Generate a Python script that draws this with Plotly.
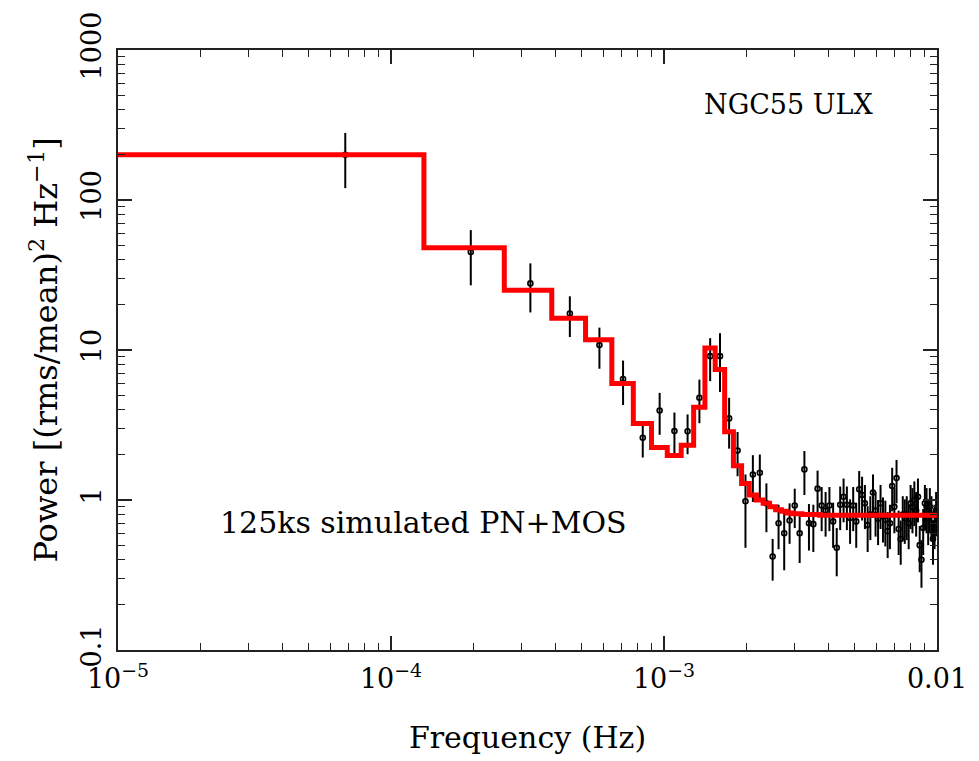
import plotly.graph_objects as go

# ---------------- data ----------------
# bin centre frequencies (Hz), linearly spaced bins of width 1.28e-4 Hz
freq = [
    6.8e-5, 1.96e-4, 3.24e-4, 4.52e-4, 5.80e-4, 7.08e-4, 8.36e-4, 9.64e-4,
    1.092e-3, 1.220e-3, 1.348e-3, 1.476e-3, 1.604e-3, 1.732e-3, 1.860e-3, 1.988e-3,
    2.116e-3, 2.244e-3, 2.372e-3, 2.500e-3, 2.628e-3, 2.756e-3, 2.884e-3, 3.012e-3,
    3.140e-3, 3.268e-3, 3.396e-3, 3.524e-3, 3.652e-3, 3.780e-3, 3.908e-3, 4.036e-3,
    4.164e-3, 4.292e-3, 4.420e-3, 4.548e-3, 4.676e-3, 4.804e-3, 4.932e-3, 5.060e-3,
    5.188e-3, 5.316e-3, 5.444e-3, 5.572e-3, 5.700e-3, 5.828e-3, 5.956e-3, 6.084e-3,
    6.212e-3, 6.340e-3, 6.468e-3, 6.596e-3, 6.724e-3, 6.852e-3, 6.980e-3, 7.108e-3,
    7.236e-3, 7.364e-3, 7.492e-3, 7.620e-3, 7.748e-3, 7.876e-3, 8.004e-3, 8.132e-3,
    8.260e-3, 8.388e-3, 8.516e-3, 8.644e-3, 8.772e-3, 8.900e-3, 9.028e-3, 9.156e-3,
    9.284e-3, 9.412e-3, 9.540e-3, 9.668e-3, 9.796e-3, 9.924e-3,
]
bin_half_width = 6.4e-5

# simulated power (rms/mean)^2 Hz^-1
power = [
    200, 45, 27.8, 17.5, 10.8, 6.4, 2.6, 3.95,
    2.88, 2.87, 4.8, 9.1, 9.1, 3.5, 2.14, 0.98,
    1.48, 1.52, 0.95, 0.42, 0.70, 0.60, 0.73, 0.92,
    0.60, 1.60, 0.70, 0.69, 1.19, 0.92, 0.85, 0.92,
    0.72, 0.48, 0.93, 1.05, 0.93, 0.76, 0.92, 0.72,
    1.18, 1.08, 0.95, 0.68, 0.80, 1.12, 0.85, 0.75,
    0.95, 0.78, 0.74, 0.62, 0.70, 1.24, 0.90, 1.40,
    0.64, 0.55, 0.80, 0.76, 0.80, 0.70, 0.95, 0.90,
    1.00, 0.85, 1.05, 0.50, 0.40, 0.65, 0.95, 0.90,
    0.75, 0.90, 0.80, 0.55, 0.70, 0.85,
]

# 1-sigma errors
power_err = [
    80, 18, 10, 5.3, 3.3, 2.1, 0.68, 1.23,
    0.95, 0.85, 1.55, 2.9, 3.85, 1.3, 0.7, 0.5,
    0.51, 0.49, 0.34, 0.13, 0.23, 0.26, 0.22, 0.27,
    0.22, 0.52, 0.24, 0.24, 0.38, 0.30, 0.28, 0.30,
    0.24, 0.17, 0.30, 0.34, 0.30, 0.25, 0.30, 0.24,
    0.38, 0.35, 0.31, 0.23, 0.26, 0.36, 0.28, 0.25,
    0.31, 0.26, 0.25, 0.21, 0.23, 0.40, 0.30, 0.45,
    0.21, 0.18, 0.26, 0.25, 0.26, 0.23, 0.31, 0.30,
    0.33, 0.28, 0.34, 0.17, 0.14, 0.22, 0.31, 0.30,
    0.25, 0.30, 0.26, 0.18, 0.23, 0.28,
]

# best-fitting model evaluated in each bin
model = [
    200, 48, 25, 16.3, 11.7, 5.97, 3.24, 2.24,
    1.98, 2.32, 4.16, 10.3, 7.4, 2.85, 1.69, 1.29,
    1.08, 1.00, 0.95, 0.90, 0.86, 0.84, 0.82, 0.81,
    0.81, 0.80, 0.80, 0.80, 0.80, 0.79, 0.79, 0.79,
    0.79, 0.79, 0.79, 0.79, 0.79, 0.79, 0.79, 0.79,
    0.79, 0.79, 0.79, 0.79, 0.79, 0.79, 0.79, 0.79,
    0.79, 0.79, 0.79, 0.79, 0.79, 0.79, 0.79, 0.79,
    0.79, 0.79, 0.79, 0.79, 0.79, 0.79, 0.79, 0.79,
    0.79, 0.79, 0.79, 0.79, 0.79, 0.79, 0.79, 0.79,
    0.79, 0.79, 0.79, 0.79, 0.79, 0.79,
]

x_tickvals = [1e-5, 1e-4, 1e-3, 1e-2]
x_ticktext = ["10<sup>\u22125</sup>", "10<sup>\u22124</sup>", "10<sup>\u22123</sup>", "0.01"]
y_tickvals = [0.1, 1, 10, 100, 1000]
y_ticktext = ["0.1", "1", "10", "100", "1000"]

# ---------------- build figure ----------------
FONT = "DejaVu Serif"

# step path along bin edges for the model
step_x = [f - bin_half_width for f in freq] + [freq[-1] + bin_half_width]
step_y = model + [model[-1]]

fig = go.Figure()

fig.add_trace(go.Scatter(
    x=freq, y=power, mode="markers",
    marker=dict(symbol="circle-open", size=5, color="black", line=dict(width=1.6, color="black")),
    error_y=dict(type="data", array=power_err, color="black", thickness=2, width=0),
    showlegend=False, hoverinfo="x+y",
))

fig.add_trace(go.Scatter(
    x=step_x, y=step_y, mode="lines", line_shape="hv",
    line=dict(color="#ff0000", width=5),
    showlegend=False, hoverinfo="skip",
))

minor_x = [m * 10 ** e for e in (-5, -4, -3) for m in range(2, 10)]
minor_y = [m * 10 ** e for e in (-1, 0, 1, 2) for m in range(2, 10)]

axis_common = dict(
    type="log",
    showgrid=False, zeroline=False,
    showline=True, linewidth=2, linecolor="#222",
    ticks="inside", ticklen=14, tickwidth=1.6, tickcolor="#222",
    mirror="allticks",
    tickfont=dict(family=FONT, size=27, color="black"),
    tickmode="array",
)

fig.update_layout(
    width=979, height=761,
    margin=dict(l=118, r=41, t=42, b=108),
    paper_bgcolor="white", plot_bgcolor="white",
    font=dict(family=FONT, color="black"),
    xaxis=dict(
        **axis_common,
        range=[-5, -2],
        tickvals=x_tickvals, ticktext=x_ticktext,
        ticklabelstandoff=4,
        minor=dict(ticks="inside", ticklen=7, tickwidth=1.4, tickcolor="#222",
                   tickvals=minor_x, showgrid=False),
        title=dict(text="Frequency (Hz)", font=dict(family=FONT, size=30), standoff=34),
    ),
    yaxis=dict(
        **axis_common,
        range=[-1, 3],
        tickvals=y_tickvals, ticktext=y_ticktext,
        tickangle=-90,
        ticklabelstandoff=4,
        minor=dict(ticks="inside", ticklen=7, tickwidth=1.4, tickcolor="#222",
                   tickvals=minor_y, showgrid=False),
        title=dict(text="Power [(rms/mean)<sup>2</sup> Hz<sup>\u22121</sup>]",
                   font=dict(family=FONT, size=32), standoff=9),
    ),
    annotations=[
        dict(text="NGC55 ULX", xref="paper", yref="paper", x=0.713, y=0.909,
             xanchor="left", yanchor="middle", showarrow=False,
             font=dict(family=FONT, size=27, color="black")),
        dict(text="125ks simulated PN+MOS", xref="paper", yref="paper", x=0.122, y=0.212,
             xanchor="left", yanchor="middle", showarrow=False,
             font=dict(family=FONT, size=30, color="black")),
    ],
)

fig.write_html("out.html")
